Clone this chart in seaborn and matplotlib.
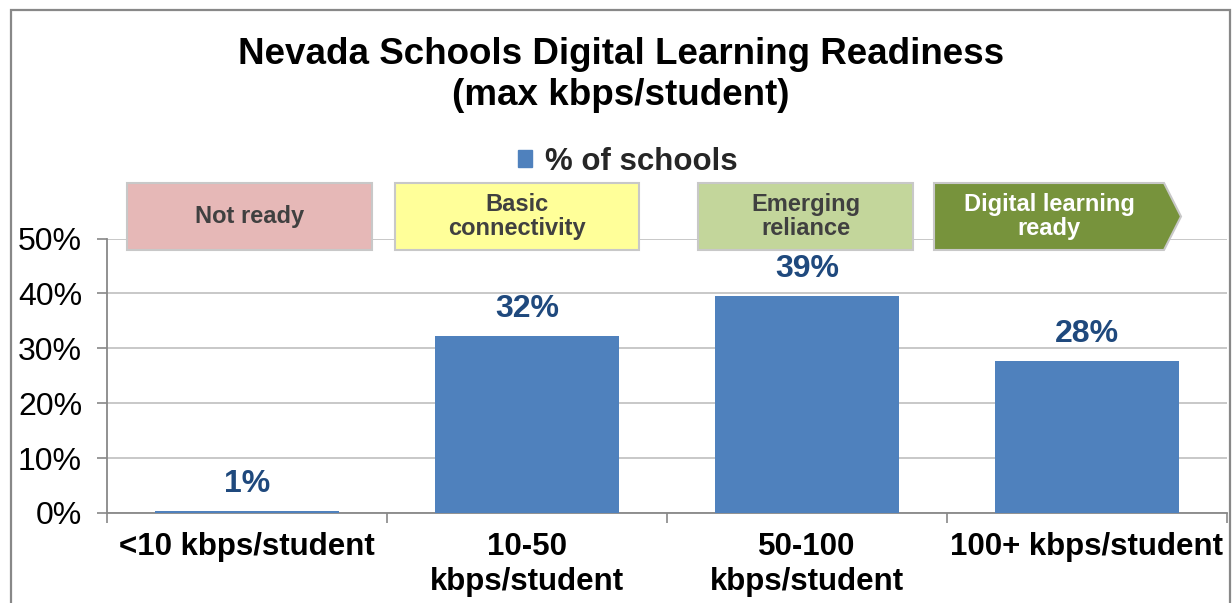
import matplotlib
matplotlib.use("Agg")
import matplotlib.pyplot as plt
import matplotlib.patches as mpatches
from matplotlib.ticker import FixedLocator, PercentFormatter
import seaborn as sns
import pandas as pd

# ---- data ----
categories = ["<10 kbps/student", "10-50\nkbps/student", "50-100\nkbps/student", "100+ kbps/student"]
pct_schools = [0.45, 32.3, 39.5, 27.7]
value_labels = ["1%", "32%", "39%", "28%"]
series_name = "% of schools"
stages = ["Not ready", "Basic\nconnectivity", "Emerging\nreliance", "Digital learning\nready"]
title = "Nevada Schools Digital Learning Readiness\n(max kbps/student)"

df = pd.DataFrame({"cat": categories, "val": pct_schools})

sns.set_style("white")
plt.rcParams['font.family'] = ['Liberation Sans', 'DejaVu Sans']

W, H = 1232, 603
fig = plt.figure(figsize=(W / 100, H / 100), dpi=100)

def fx(x):
    return x / W

def fy(y):
    return 1 - y / H

# axes: x 107..1227, y 238.5..513 px
ax = fig.add_axes([fx(107), fy(513), fx(1227) - fx(107), (513 - 238.5) / H])

BAR = "#4F81BD"
sns.barplot(data=df, x="cat", y="val", color=BAR, width=0.66, ax=ax,
            saturation=1, edgecolor="none", zorder=3)

ax.set_ylim(0, 50)
ax.set_xlim(-0.5, 3.5)
ax.set_xlabel("")
ax.set_ylabel("")
ax.yaxis.set_major_locator(FixedLocator([0, 10, 20, 30, 40, 50]))
ax.yaxis.set_major_formatter(PercentFormatter(decimals=0))
ax.grid(axis="y", color="#BFBFBF", linewidth=1.2, zorder=0)
ax.set_axisbelow(True)

for side in ["top", "right"]:
    ax.spines[side].set_visible(False)
for side in ["left", "bottom"]:
    ax.spines[side].set_color("#888888")
    ax.spines[side].set_linewidth(1.3)

ax.tick_params(axis="y", which="major", length=7, width=1.2, color="#888888",
               direction="out", left=True, labelsize=23, pad=11, labelcolor="black")
ax.tick_params(axis="x", which="major", length=0, labelsize=22.5, pad=14, labelcolor="black")
ax.xaxis.set_minor_locator(FixedLocator([-0.5, 0.5, 1.5, 2.5, 3.5]))
ax.tick_params(axis="x", which="minor", length=7, width=1.2, color="#888888",
               direction="out", bottom=True)
for lab in ax.get_xticklabels():
    lab.set_fontweight("bold")
    lab.set_linespacing(1.2)
    lab.set_verticalalignment("top")

# value labels
for i, (v, t) in enumerate(zip(pct_schools, value_labels)):
    ax.annotate(t, (i, v), xytext=(0, 8.5), textcoords="offset points",
                ha="center", va="bottom", fontsize=23, fontweight="bold",
                color="#1F497D", zorder=6, annotation_clip=False)

# title
fig.text(fx(621), fy(75), title, ha="center", va="center", fontsize=26.5,
         fontweight="bold", linespacing=1.25, color="black")

# legend
handle = mpatches.Patch(color=BAR, label=series_name)
fig.legend(handles=[handle], loc="center", bbox_to_anchor=(fx(628), fy(162)),
           frameon=False, prop={"size": 22.5, "weight": "bold"},
           handlelength=0.45, handleheight=0.45, handletextpad=0.4)

# stage banners
boxes = [
    (127, 372, "#E6B8B7", "#404040"),
    (395, 639, "#FFFF99", "#404040"),
    (698, 913, "#C3D69B", "#404040"),
]
top_y, bot_y = 183, 250
for (x0, x1, fc, tc), label in zip(boxes, stages[:3]):
    r = mpatches.Rectangle((fx(x0), fy(bot_y)), fx(x1) - fx(x0), (bot_y - top_y) / H,
                           transform=fig.transFigure, facecolor=fc,
                           edgecolor="#C8C8C8", linewidth=1.5, zorder=4)
    fig.add_artist(r)
    fig.text(fx((x0 + x1) / 2), fy((top_y + bot_y) / 2), label, ha="center",
             va="center", fontsize=17, fontweight="bold", color=tc,
             linespacing=1.1, zorder=5)

# arrow-shaped last banner
pts = [(934, top_y), (1164, top_y), (1181, (top_y + bot_y) / 2), (1164, bot_y), (934, bot_y)]
poly = mpatches.Polygon([(fx(x), fy(y)) for x, y in pts], closed=True,
                        transform=fig.transFigure, facecolor="#77933C",
                        edgecolor="#C8C8C8", linewidth=1.5, zorder=4)
fig.add_artist(poly)
fig.text(fx(1049), fy((top_y + bot_y) / 2), stages[3], ha="center", va="center",
         fontsize=17, fontweight="bold", color="white", linespacing=1.1, zorder=5)

# outer frame
frame = mpatches.Rectangle((fx(11), fy(620)), fx(1230) - fx(11), (620 - 10) / H,
                           transform=fig.transFigure, facecolor="none",
                           edgecolor="#888888", linewidth=1.6, clip_on=False)
fig.add_artist(frame)

fig.savefig("out.png", dpi=100)
